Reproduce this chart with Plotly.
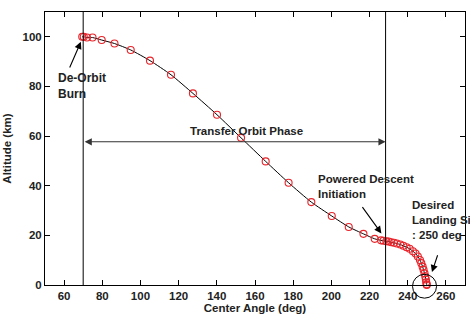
import plotly.graph_objects as go

# ---- data ----
center_angle = [69.5, 70.3, 72.0, 74.9, 79.7, 86.4, 94.9, 105.0, 116.0, 127.5,
                140.1, 152.7, 165.6, 177.6, 189.5, 200.2, 209.1, 216.8, 222.7, 226.0,
                227.3, 228.8, 230.0, 231.4, 232.8, 234.3, 236.1, 237.7, 239.4, 241.0,
                242.7, 244.1, 245.3, 246.4, 247.1, 247.8, 248.3, 248.8, 249.2, 249.5,
                249.7, 249.9, 250.0]
altitude = [100.0, 100.0, 99.7, 99.7, 98.7, 97.3, 94.7, 90.4, 84.7, 77.2,
            68.6, 59.3, 49.8, 41.2, 33.4, 27.8, 23.4, 20.6, 18.6, 18.0,
            17.8, 17.6, 17.5, 17.2, 17.0, 16.7, 16.3, 15.8, 15.2, 14.6,
            13.6, 12.7, 11.5, 10.1, 8.8, 7.4, 6.1, 4.7, 3.4, 2.2,
            1.1, 0.3, 0.0]
deorbit_angle = 70.0
pdi_angle = 228.4
landing_angle = 250.0
x_ticks = [60, 80, 100, 120, 140, 160, 180, 200, 220, 240, 260]
y_ticks = [0, 20, 40, 60, 80, 100]
x_range = [50, 270]
y_range = [0, 110]

FONT = "Liberation Sans, Arial, sans-serif"
TXT = "#222222"

fig = go.Figure()
fig.add_trace(go.Scatter(
    x=center_angle, y=altitude, mode="lines",
    line=dict(color="black", width=1, shape="spline", smoothing=0.6),
    hoverinfo="skip", showlegend=False, cliponaxis=False))
fig.add_trace(go.Scatter(
    x=center_angle, y=altitude, mode="markers",
    marker=dict(symbol="circle-open", size=7, color="#e8242a", line=dict(width=1.1)),
    showlegend=False, cliponaxis=False))

# vertical phase lines
for xv in [deorbit_angle, pdi_angle]:
    fig.add_shape(type="line", xref="x", yref="paper", x0=xv, x1=xv, y0=0, y1=1,
                  line=dict(color="black", width=1))

# circle around landing site (paper coords so it is not clipped)
def px(v):
    return (v - x_range[0]) / (x_range[1] - x_range[0])
def py(v):
    return (v - y_range[0]) / (y_range[1] - y_range[0])
rx, ry = 6.3, 4.8
cx, cy = 248.8, -0.5
fig.add_shape(type="circle", xref="paper", yref="paper",
              x0=px(cx - rx), x1=px(cx + rx), y0=py(cy - ry), y1=py(cy + ry),
              line=dict(color="black", width=1))

tfont = dict(family=FONT, size=11.5, color=TXT, weight="bold")

# annotations: texts
fig.add_annotation(x=56.0, y=80.0, xref="x", yref="y", text="De-Orbit<br>Burn",
                   showarrow=False, xanchor="left", yanchor="middle", align="left",
                   font=dict(family=FONT, size=12, color=TXT, weight="bold"))
fig.add_annotation(x=155.3, y=62.2, xref="x", yref="y", text="Transfer Orbit Phase",
                   showarrow=False, xanchor="center", yanchor="middle", font=tfont)
fig.add_annotation(x=192.1, y=39.7, xref="x", yref="y", text="Powered Descent<br>Initiation",
                   showarrow=False, xanchor="left", yanchor="middle", align="left", font=tfont)
fig.add_annotation(x=241.1, y=26.0, xref="x", yref="y", text="Desired<br>Landing Site<br>: 250 deg",
                   showarrow=False, xanchor="left", yanchor="middle", align="left", font=tfont)

# arrows
def arrow(x, y, ax, ay, side="end", color="black"):
    fig.add_annotation(x=x, y=y, ax=ax, ay=ay, xref="x", yref="y", axref="x", ayref="y",
                       text="", showarrow=True, arrowhead=2, arrowsize=1.3, arrowwidth=1.1,
                       arrowcolor=color, arrowside=side, standoff=0, startstandoff=0)

arrow(68.8, 98.0, 62.6, 87.0)
arrow(pdi_angle, 57.7, deorbit_angle, 57.7, side="end+start", color="#333333")
arrow(226.2, 20.8, 215.7, 32.0)
arrow(252.7, 5.2, 255.9, 12.6)

axis_common = dict(showline=True, linecolor="black", linewidth=1, mirror="ticks",
                   ticks="inside", ticklen=5, tickcolor="black", tickwidth=1,
                   showgrid=False, zeroline=False,
                   tickfont=dict(family=FONT, size=11.5, color=TXT, weight="bold"))
fig.update_xaxes(range=x_range, tickvals=x_ticks, **axis_common,
                 title=dict(text="Center Angle (deg)", standoff=3,
                            font=dict(family=FONT, size=11.5, color=TXT, weight="bold")))
fig.update_yaxes(range=y_range, tickvals=y_ticks, **axis_common,
                 title=dict(text="Altitude (km)", standoff=8,
                            font=dict(family=FONT, size=11.5, color=TXT, weight="bold")))

fig.update_layout(width=470, height=321, margin=dict(l=45, r=5, t=12, b=36, autoexpand=False),
                  plot_bgcolor="white", paper_bgcolor="white")
fig.write_html("out.html", config={"displayModeBar": False},
               post_script="document.body.style.margin='0';document.body.style.overflow='hidden';")
